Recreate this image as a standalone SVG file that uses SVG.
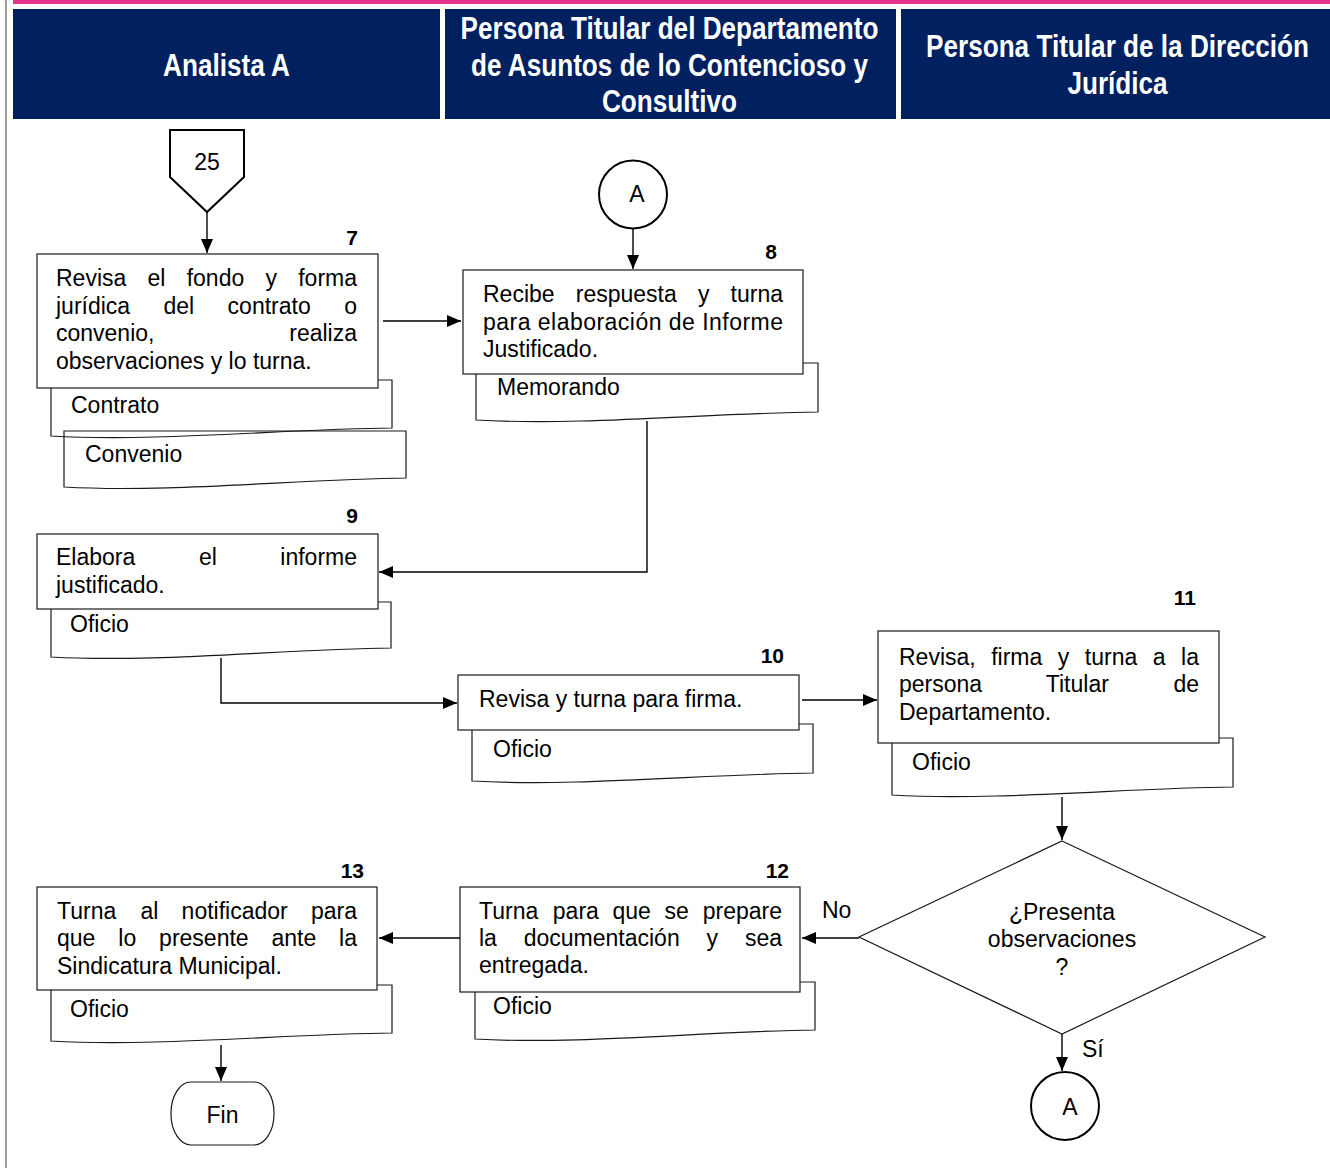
<svg xmlns="http://www.w3.org/2000/svg" width="1330" height="1168" viewBox="0 0 1330 1168">
  <defs>
    <marker id="arrow" viewBox="0 0 14 12" refX="14" refY="6" markerWidth="14" markerHeight="12" markerUnits="userSpaceOnUse" orient="auto">
      <path d="M0,0 L14,6 L0,12 Z" fill="#000"/>
    </marker>
  </defs>
  <style>
    .hdr { fill: #002060; }
    .ht { font-family: "Liberation Sans", Arial, sans-serif; font-weight: bold; font-size: 31.5px; fill: #fff; text-anchor: middle; }
    .box { fill: #fff; stroke: #1a1a1a; stroke-width: 1.2; }
    .doc { fill: none; stroke: #1a1a1a; stroke-width: 1.2; }
    .t { font-family: "Liberation Sans", Arial, sans-serif; font-size: 23px; fill: #000; }
    .tc { font-family: "Liberation Sans", Arial, sans-serif; font-size: 23px; fill: #000; text-anchor: middle; }
    .num { font-family: "Liberation Sans", Arial, sans-serif; font-size: 21px; font-weight: bold; fill: #000; text-anchor: end; }
    .end { text-anchor: end; }
    .conn { fill: none; stroke: #000; stroke-width: 1.4; }
    .bold { fill: #fff; stroke: #000; stroke-width: 2; }
  </style>

  <!-- page frame -->
  <rect x="13" y="0" width="1317" height="4" fill="#e8338a"/>
  <rect x="5" y="0" width="2" height="1168" fill="#a0a0a0"/>

  <!-- lane headers (condensed bold titles) -->
  <g id="lane-analista">
    <rect class="hdr" x="13" y="9" width="427" height="110"/>
    <g transform="translate(226.5,0) scale(0.83,1)">
      <text class="ht" x="0" y="76">Analista A</text>
    </g>
  </g>
  <g id="lane-departamento">
    <rect class="hdr" x="445" y="9" width="451" height="110"/>
    <g transform="translate(669.5,0) scale(0.83,1)">
      <text class="ht" x="0" y="39.5">Persona Titular del Departamento</text>
      <text class="ht" x="0" y="76">de Asuntos de lo Contencioso y</text>
      <text class="ht" x="0" y="112.5">Consultivo</text>
    </g>
  </g>
  <g id="lane-direccion">
    <rect class="hdr" x="901" y="9" width="429" height="110"/>
    <g transform="translate(1117.5,0) scale(0.83,1)">
      <text class="ht" x="0" y="57.5">Persona Titular de la Dirección</text>
      <text class="ht" x="0" y="94">Jurídica</text>
    </g>
  </g>

  <!-- connectors -->
  <g id="connectors">
    <path class="conn" d="M207,212 V253" marker-end="url(#arrow)"/>
    <path class="conn" d="M383,321 H461" marker-end="url(#arrow)"/>
    <path class="conn" d="M633,229 V269" marker-end="url(#arrow)"/>
    <path class="conn" d="M647,421 V572 H379" marker-end="url(#arrow)"/>
    <path class="conn" d="M221,658 V703 H457" marker-end="url(#arrow)"/>
    <path class="conn" d="M802,700 H877" marker-end="url(#arrow)"/>
    <path class="conn" d="M1062,797 V840" marker-end="url(#arrow)"/>
    <path class="conn" d="M859,938 H802" marker-end="url(#arrow)"/>
    <path class="conn" d="M460,938 H379" marker-end="url(#arrow)"/>
    <path class="conn" d="M1062,1034 V1071" marker-end="url(#arrow)"/>
    <path class="conn" d="M221,1045 V1081" marker-end="url(#arrow)"/>
  </g>

  <!-- off-page connector 25 -->
  <g id="n-25">
    <polygon class="bold" points="170,130 244,130 244,177 207,212 170,177"/>
    <text class="tc" x="207" y="170">25</text>
  </g>

  <!-- step 7 -->
  <g id="n-7">
    <path class="doc" d="M64,431 H406 V478 C300,479 170,493 64,487 Z"/>
    <text class="t" x="85" y="462">Convenio</text>
    <path class="doc" d="M51,380 H392 V428 C286,429 156,442 51,436 Z"/>
    <text class="t" x="71" y="413">Contrato</text>
    <rect class="box" x="37" y="254" width="341" height="134"/>
    <text class="num" x="358" y="245">7</text>
    <text class="t" y="286"><tspan x="56">Revisa</tspan><tspan x="147.5">el</tspan><tspan x="186.7">fondo</tspan><tspan x="265.5">y</tspan><tspan x="357" class="end">forma</tspan></text>
    <text class="t" y="313.5"><tspan x="56">jurídica</tspan><tspan x="163.5">del</tspan><tspan x="227.6">contrato</tspan><tspan x="357" class="end">o</tspan></text>
    <text class="t" y="341"><tspan x="56">convenio,</tspan><tspan x="357" class="end">realiza</tspan></text>
    <text class="t" x="56" y="368.5">observaciones y lo turna.</text>
  </g>

  <!-- connector A (entry) -->
  <g id="n-A-in">
    <circle class="bold" cx="633" cy="194.5" r="34"/>
    <text class="tc" x="637" y="201.5">A</text>
  </g>

  <!-- step 8 -->
  <g id="n-8">
    <path class="doc" d="M476,363 H818 V412 C712,413 582,426 476,420 Z"/>
    <text class="t" x="497" y="395">Memorando</text>
    <rect class="box" x="463" y="270" width="340" height="104"/>
    <text class="num" x="777" y="258.5">8</text>
    <text class="t" y="302"><tspan x="483">Recibe</tspan><tspan x="575.8">respuesta</tspan><tspan x="698">y</tspan><tspan x="783" class="end">turna</tspan></text>
    <text class="t" x="483" y="329.5" textLength="300" lengthAdjust="spacing">para elaboración de Informe</text>
    <text class="t" x="483" y="357">Justificado.</text>
  </g>

  <!-- step 9 -->
  <g id="n-9">
    <path class="doc" d="M51,602 H391 V648 C285,649 155,663 51,657 Z"/>
    <text class="t" x="70" y="632">Oficio</text>
    <rect class="box" x="37" y="534" width="341" height="75"/>
    <text class="num" x="358" y="523">9</text>
    <text class="t" y="565"><tspan x="56">Elabora</tspan><tspan x="198.9">el</tspan><tspan x="357" class="end">informe</tspan></text>
    <text class="t" x="56" y="593">justificado.</text>
  </g>

  <!-- step 10 -->
  <g id="n-10">
    <path class="doc" d="M472,724 H813 V773 C707,774 576,787 472,781 Z"/>
    <text class="t" x="493" y="757">Oficio</text>
    <rect class="box" x="458" y="675" width="341" height="55"/>
    <text class="num" x="784" y="663">10</text>
    <text class="t" x="479" y="707">Revisa y turna para firma.</text>
  </g>

  <!-- step 11 -->
  <g id="n-11">
    <path class="doc" d="M892,738 H1233 V787 C1127,788 996,801 892,795 Z"/>
    <text class="t" x="912" y="770">Oficio</text>
    <rect class="box" x="878" y="631" width="341" height="112"/>
    <text class="num" x="1196" y="605">11</text>
    <text class="t" y="665"><tspan x="899">Revisa,</tspan><tspan x="991.2">firma</tspan><tspan x="1057.8">y</tspan><tspan x="1084.8">turna</tspan><tspan x="1152.7">a</tspan><tspan x="1199" class="end">la</tspan></text>
    <text class="t" y="692"><tspan x="899">persona</tspan><tspan x="1045.8">Titular</tspan><tspan x="1199" class="end">de</tspan></text>
    <text class="t" x="899" y="720">Departamento.</text>
  </g>

  <!-- decision -->
  <g id="n-decision">
    <polygon class="box" points="1062,841 1265,937 1062,1034 859,937"/>
    <text class="tc" x="1062" y="920">¿Presenta</text>
    <text class="tc" x="1062" y="947">observaciones</text>
    <text class="tc" x="1062" y="975">?</text>
    <text class="t" x="822" y="918">No</text>
    <text class="t" x="1082" y="1057">Sí</text>
  </g>

  <!-- connector A (exit) -->
  <g id="n-A-out">
    <circle class="bold" cx="1065" cy="1106" r="34"/>
    <text class="tc" x="1070" y="1115">A</text>
  </g>

  <!-- step 12 -->
  <g id="n-12">
    <path class="doc" d="M475,982 H815 V1030 C709,1031 579,1045 475,1039 Z"/>
    <text class="t" x="493" y="1014">Oficio</text>
    <rect class="box" x="460" y="887" width="340" height="105"/>
    <text class="num" x="789" y="878">12</text>
    <text class="t" y="919"><tspan x="479">Turna</tspan><tspan x="552.8">para</tspan><tspan x="612.5">que</tspan><tspan x="664.6">se</tspan><tspan x="782" class="end">prepare</tspan></text>
    <text class="t" y="946"><tspan x="479">la</tspan><tspan x="523.7">documentación</tspan><tspan x="706.5">y</tspan><tspan x="782" class="end">sea</tspan></text>
    <text class="t" x="479" y="973">entregada.</text>
  </g>

  <!-- step 13 -->
  <g id="n-13">
    <path class="doc" d="M51,985 H392 V1033 C286,1034 155,1047 51,1041 Z"/>
    <text class="t" x="70" y="1017">Oficio</text>
    <rect class="box" x="37" y="887" width="340" height="103"/>
    <text class="num" x="364" y="878">13</text>
    <text class="t" y="918.5"><tspan x="57">Turna</tspan><tspan x="140.4">al</tspan><tspan x="181.6">notificador</tspan><tspan x="357" class="end">para</tspan></text>
    <text class="t" y="946"><tspan x="57">que</tspan><tspan x="118.3">lo</tspan><tspan x="159.1">presente</tspan><tspan x="271.5">ante</tspan><tspan x="357" class="end">la</tspan></text>
    <text class="t" x="57" y="973.5">Sindicatura Municipal.</text>
  </g>

  <!-- end terminator -->
  <g id="n-fin">
    <rect class="box" x="171" y="1082" width="103" height="63" rx="20" ry="31"/>
    <text class="tc" x="222.5" y="1123">Fin</text>
  </g>
</svg>
